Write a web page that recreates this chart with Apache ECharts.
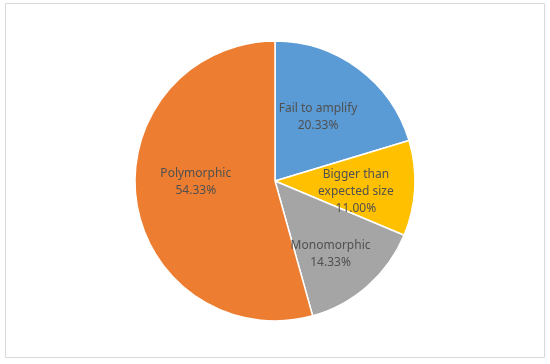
<!DOCTYPE html>
<html>
<head>
<meta charset="utf-8">
<script src="https://cdn.jsdelivr.net/npm/echarts@6/dist/echarts.min.js"></script>
<style>
  html, body { margin: 0; padding: 0; background: #fff; }
  #chart { width: 550px; height: 364px; }
</style>
</head>
<body>
<div id="chart"></div>
<script>
var categories = ['Fail to amplify', 'Bigger than\nexpected size', 'Monomorphic', 'Polymorphic'];
var percents = [20.33, 11.00, 14.33, 54.33];
var colors = ['#5B9BD5', '#FFC000', '#A5A5A5', '#ED7D31'];
// small label nudges so they sit where the original placed them
var labelNudge = [[-7, 4], [-3, 6], [0, 10], [4, -10]];

var chart = echarts.init(document.getElementById('chart'));

var slices = categories.map(function (name, i) {
    return { name: name, value: percents[i], itemStyle: { color: colors[i] } };
});

chart.setOption({
    animation: false,
    graphic: [{
        type: 'rect',
        shape: { x: 5.5, y: 3.5, width: 539, height: 354 },
        style: { fill: 'none', stroke: '#d9d9d9', lineWidth: 1 }
    }],
    series: [{
        type: 'pie',
        center: [275, 181],
        radius: [0, 140],
        startAngle: 90,
        clockwise: true,
        label: { show: false },
        labelLine: { show: false },
        itemStyle: { borderColor: '#fff', borderWidth: 1.5 },
        data: slices
    }, {
        // transparent copy, only used to place labels further out
        type: 'pie',
        center: [275, 181],
        radius: [0, 162],
        startAngle: 90,
        clockwise: true,
        silent: true,
        itemStyle: { color: 'rgba(0,0,0,0)' },
        label: {
            show: true,
            position: 'inside',
            fontFamily: 'Noto Sans',
            fontSize: 12,
            lineHeight: 17,
            color: '#505050',
            formatter: function (p) { return p.name + '\n' + p.value.toFixed(2) + '%'; }
        },
        labelLine: { show: false },
        data: categories.map(function (name, i) {
            return { name: name, value: percents[i], label: { offset: labelNudge[i] } };
        })
    }]
});
</script>
</body>
</html>
